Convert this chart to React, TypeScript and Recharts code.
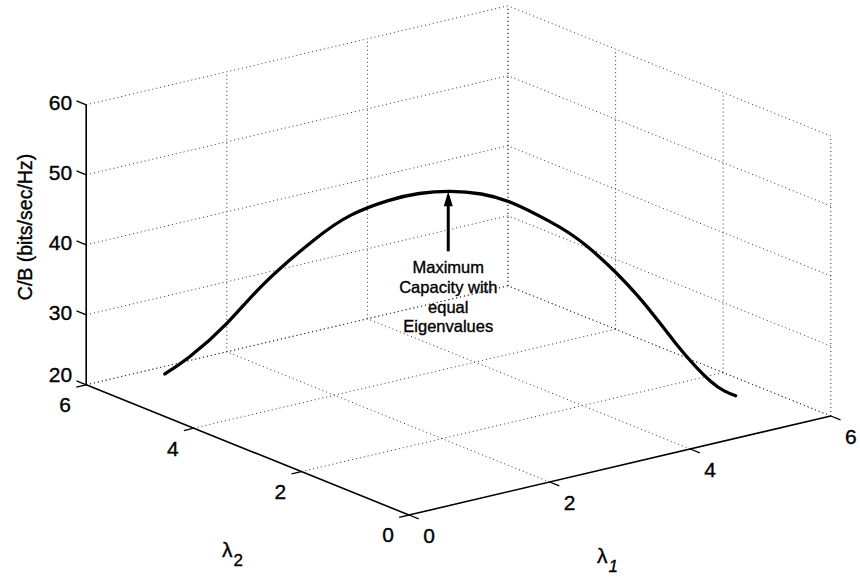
import { ComposedChart, Line, XAxis, YAxis, ReferenceLine, ReferenceDot } from "recharts";

// curve (lambda1 + lambda2 = 5)
const lambda1 = [0.2, 0.4, 0.7, 1.0, 1.4, 1.7, 2.0, 2.25, 2.5, 2.75, 3.0, 3.3, 3.6, 4.0, 4.3, 4.6, 4.8];
const lambda2 = [4.8, 4.6, 4.3, 4.0, 3.6, 3.3, 3.0, 2.75, 2.5, 2.25, 2.0, 1.7, 1.4, 1.0, 0.7, 0.4, 0.2];
const capacity = [24.8, 27.4, 32.4, 38.3, 44.8, 48.6, 50.9, 52.1, 52.6, 52.4, 51.3, 48.9, 45.6, 39.0, 32.6, 27.0, 25.1];

const lambdaTicks = [0, 2, 4, 6];
const cTicks = [20, 30, 40, 50, 60];
const annotation = ["Maximum", "Capacity with", "equal", "Eigenvalues"];

const W = 860;
const H = 577;
const FONT = "'Liberation Sans', Arial, Helvetica, sans-serif";

// simple orthographic view, fitted to the reference box
const proj = (l1: number, l2: number, c: number) => ({
  x: 409 + 70.3 * l1 - 53.8 * l2,
  y: 515 - 16.5 * l1 - 21.7 * l2 - 7.0 * (c - 20),
});

const L0 = lambdaTicks[0];
const L1 = lambdaTicks[lambdaTicks.length - 1];
const C0 = cTicks[0];
const C1 = cTicks[cTicks.length - 1];

type P3 = [number, number, number];
const grid: [P3, P3][] = [];
// floor
lambdaTicks.forEach((t) => {
  if (t !== L0) grid.push([[t, L0, C0], [t, L1, C0]]);
  if (t !== L0) grid.push([[L0, t, C0], [L1, t, C0]]);
});
// back wall lambda2 = 6
lambdaTicks.forEach((t) => {
  if (t !== L0) grid.push([[t, L1, C0], [t, L1, C1]]);
});
cTicks.forEach((c) => grid.push([[L0, L1, c], [L1, L1, c]]));
// back wall lambda1 = 6
lambdaTicks.forEach((t) => grid.push([[L1, t, C0], [L1, t, C1]]));
cTicks.forEach((c) => grid.push([[L1, L0, c], [L1, L1, c]]));

const axes: [P3, P3][] = [
  [[L0, L1, C0], [L0, L1, C1]],
  [[L0, L0, C0], [L0, L1, C0]],
  [[L0, L0, C0], [L1, L0, C0]],
];

const curve = lambda1.map((l, i) => proj(l, lambda2[i], capacity[i]));
const peakIdx = capacity.indexOf(Math.max(...capacity));
const peak = curve[peakIdx];

const seg = (a: P3, b: P3) => [proj(...a), proj(...b)];

const txt = { fontFamily: FONT, fill: "#000", stroke: "#000", strokeWidth: 0.35 };

export default function App() {
  return (
    <div style={{ position: "absolute", left: 0, top: 0, background: "#fff" }}>
      <ComposedChart width={W} height={H} data={curve} margin={{ top: 0, right: 0, bottom: 0, left: 0 }}>
        <XAxis type="number" dataKey="x" domain={[0, W]} hide allowDataOverflow />
        <YAxis type="number" domain={[0, H]} reversed hide allowDataOverflow />

        {grid.map(([a, b], i) => (
          <ReferenceLine key={"g" + i} segment={seg(a, b)} stroke="#333" strokeWidth={1} strokeDasharray="1 3" ifOverflow="visible" />
        ))}
        {axes.map(([a, b], i) => (
          <ReferenceLine key={"a" + i} segment={seg(a, b)} stroke="#000" strokeWidth={1.6} ifOverflow="visible" />
        ))}

        {/* ticks */}
        {cTicks.map((c) => (
          <ReferenceLine key={"zt" + c} segment={seg([L0, L1, c], [L0, L1 + 0.18, c])} stroke="#000" strokeWidth={1.3} ifOverflow="visible" />
        ))}
        {lambdaTicks.map((t) => (
          <ReferenceLine key={"l2t" + t} segment={seg([L0, t, C0], [L0 - 0.14, t, C0])} stroke="#000" strokeWidth={1.3} ifOverflow="visible" />
        ))}
        {lambdaTicks.map((t) => (
          <ReferenceLine key={"l1t" + t} segment={seg([t, L0, C0], [t, L0 - 0.18, C0])} stroke="#000" strokeWidth={1.3} ifOverflow="visible" />
        ))}

        {/* tick labels */}
        {cTicks.map((c) => {
          const p = proj(L0, L1, c);
          return (
            <ReferenceDot
              key={"zl" + c}
              x={p.x}
              y={p.y}
              r={0}
              ifOverflow="visible"
              shape={(s: any) => (
                <text x={s.cx - 14} y={s.cy - 2 + (c === C0 ? -8 : 0)} dy="0.35em" textAnchor="end" fontSize={21} {...txt}>
                  {c}
                </text>
              )}
            />
          );
        })}
        {lambdaTicks.map((t) => {
          const p = proj(L0, t, C0);
          return (
            <ReferenceDot
              key={"l2l" + t}
              x={p.x}
              y={p.y}
              r={0}
              ifOverflow="visible"
              shape={(s: any) => (
                <text x={s.cx - 21} y={s.cy + 20} dy="0.35em" textAnchor="middle" fontSize={21} {...txt}>
                  {t}
                </text>
              )}
            />
          );
        })}
        {lambdaTicks.map((t) => {
          const p = proj(t, L0, C0);
          return (
            <ReferenceDot
              key={"l1l" + t}
              x={p.x}
              y={p.y}
              r={0}
              ifOverflow="visible"
              shape={(s: any) => (
                <text x={s.cx + 20} y={s.cy + 21} dy="0.35em" textAnchor="middle" fontSize={21} {...txt}>
                  {t}
                </text>
              )}
            />
          );
        })}

        {/* axis titles */}
        <ReferenceDot
          x={25}
          y={227}
          r={0}
          ifOverflow="visible"
          shape={(s: any) => (
            <text x={s.cx} y={s.cy} dy="0.35em" textAnchor="middle" fontSize={19.5} {...txt} transform={`rotate(-90 ${s.cx} ${s.cy})`}>
              C/B (bits/sec/Hz)
            </text>
          )}
        />
        <ReferenceDot
          x={222}
          y={557}
          r={0}
          ifOverflow="visible"
          shape={(s: any) => (
            <text x={s.cx} y={s.cy} fontSize={21} {...txt}>
              λ<tspan fontSize={17} dx={1} dy={9}>2</tspan>
            </text>
          )}
        />
        <ReferenceDot
          x={597}
          y={563}
          r={0}
          ifOverflow="visible"
          shape={(s: any) => (
            <text x={s.cx} y={s.cy} fontSize={21} {...txt}>
              λ<tspan fontSize={17} fontStyle="italic" dx={1} dy={9}>1</tspan>
            </text>
          )}
        />

        <Line
          dataKey="y"
          type="natural"
          stroke="#000"
          strokeWidth={3.3}
          strokeLinecap="round"
          dot={false}
          activeDot={false}
          isAnimationActive={false}
        />

        {/* annotation arrow */}
        <ReferenceLine segment={[{ x: peak.x - 2, y: peak.y + 10 }, { x: peak.x - 2, y: peak.y + 60 }]} stroke="#000" strokeWidth={3} ifOverflow="visible" />
        <ReferenceDot
          x={peak.x - 2}
          y={peak.y}
          r={0}
          ifOverflow="visible"
          shape={(s: any) => (
            <g>
              <path d={`M${s.cx},${s.cy} L${s.cx - 4.5},${s.cy + 15} L${s.cx + 4.5},${s.cy + 15} Z`} fill="#000" />
              {annotation.map((line, i) => (
                <text key={i} x={s.cx} y={s.cy + 82 + i * 19.7} textAnchor="middle" fontSize={16.5} {...txt}>
                  {line}
                </text>
              ))}
            </g>
          )}
        />
      </ComposedChart>
    </div>
  );
}
